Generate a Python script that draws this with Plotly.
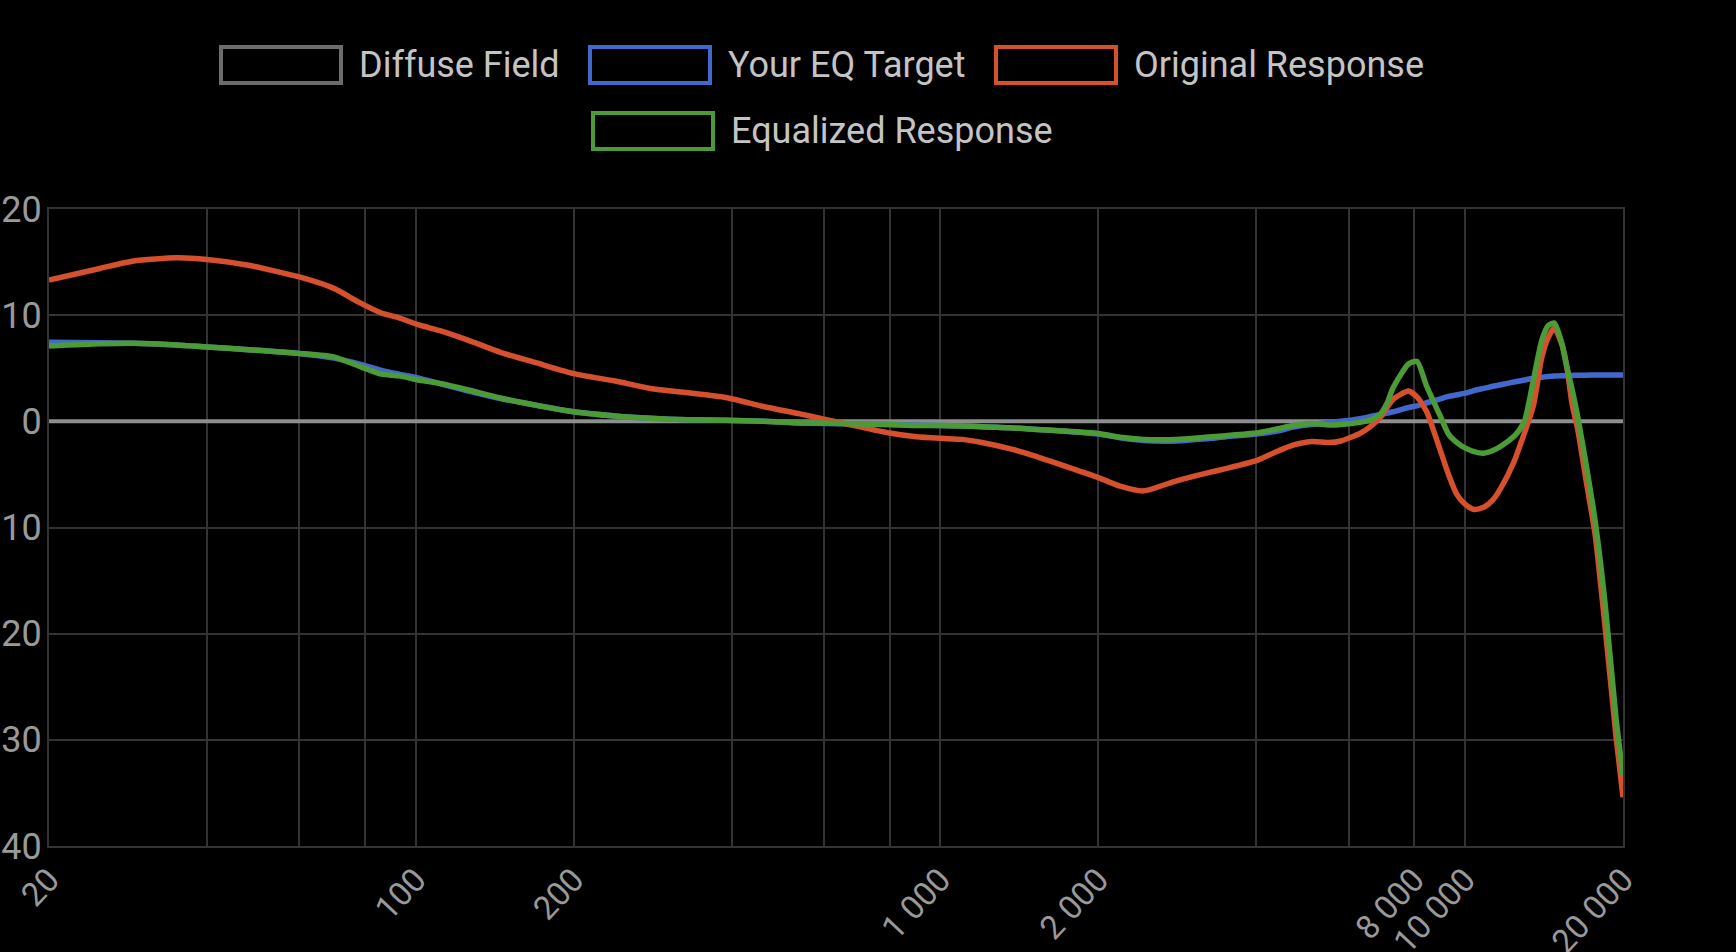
import plotly.graph_objects as go

# ---------------- data ----------------
freq = [20, 25, 29, 35, 40, 48, 60, 70, 78, 86, 93, 101, 112, 125, 145, 170, 200,
        240, 280, 330, 390, 460, 540, 600, 700, 800, 900, 1000, 1100, 1200, 1360,
        1500, 1700, 2000, 2200, 2440, 2820, 3200, 3500, 4000, 4400, 4700, 5100,
        5500, 5800, 6300, 6600, 6900, 7100, 7300, 7800, 8100, 8450, 8950, 9300, 9650,
        10000, 10400, 10850, 11300, 11700, 12400, 12700, 13000, 13500, 14000, 14400,
        14800, 15300, 15600, 16000, 16400, 17000, 17700, 18500, 19400, 20000]

original = [13.3, 14.4, 15.1, 15.4, 15.25, 14.7, 13.6, 12.5, 11.2, 10.2, 9.75, 9.1,
            8.5, 7.7, 6.5, 5.5, 4.5, 3.8, 3.1, 2.7, 2.25, 1.4, 0.7, 0.2, -0.5, -1.1,
            -1.45, -1.6, -1.7, -2.0, -2.6, -3.2, -4.1, -5.3, -6.1, -6.55, -5.6, -4.9,
            -4.45, -3.7, -2.8, -2.25, -1.9, -2.0, -1.85, -1.15, -0.5, 0.4, 1.3, 2.1, 2.85, 2.3,
            0.9, -2.6, -5.0, -6.9, -7.8, -8.3, -8.1, -7.4, -6.3, -3.8, -2.4, -1.0,
            1.5, 6.0, 7.9, 8.8, 7.2, 5.4, 1.6, -0.8, -5.5, -10.7, -19.5, -29.7, -35.4]

equalized = [7.1, 7.3, 7.35, 7.2, 7.0, 6.75, 6.4, 6.05, 5.2, 4.45, 4.28, 3.9, 3.55,
             3.0, 2.2, 1.5, 0.9, 0.5, 0.28, 0.15, 0.1, 0.0, -0.15, -0.15, -0.25,
             -0.3, -0.4, -0.4, -0.45, -0.5, -0.6, -0.75, -0.9, -1.15, -1.5, -1.7,
             -1.7, -1.5, -1.35, -1.1, -0.7, -0.4, -0.2, -0.35, -0.3, -0.1, 0.1, 0.7, 1.7, 3.2,
             5.4, 5.65, 3.3, 0.6, -1.2, -2.0, -2.5, -2.85, -3.0, -2.75, -2.35, -1.4,
             -0.8, 0.1, 3.9, 7.6, 9.0, 9.25, 7.3, 5.3, 3.0, 0.4, -4.0, -9.4, -17.3,
             -28.0, -33.4]

target = [7.45, 7.4, 7.35, 7.2, 7.0, 6.75, 6.4, 5.95, 5.4, 4.8, 4.45, 4.1, 3.5, 2.9,
          2.15, 1.5, 0.9, 0.5, 0.28, 0.15, 0.1, 0.0, -0.15, -0.2, -0.25, -0.3, -0.35,
          -0.4, -0.45, -0.5, -0.6, -0.75, -0.9, -1.2, -1.55, -1.8, -1.85, -1.65,
          -1.45, -1.2, -0.9, -0.55, -0.3, -0.1, 0.0, 0.25, 0.45, 0.65, 0.78, 0.9, 1.3, 1.45,
          1.75, 2.1, 2.35, 2.5, 2.65, 2.9, 3.1, 3.3, 3.45, 3.7, 3.8, 3.9, 4.05, 4.15,
          4.22, 4.27, 4.3, 4.3, 4.32, 4.34, 4.35, 4.36, 4.37, 4.37, 4.37]

diffuse_freq = [20, 20000]
diffuse = [0.0, 0.0]

series_names = ["Diffuse Field", "Your EQ Target", "Original Response", "Equalized Response"]
line_colors = ["#8e8e8e", "#4169cd", "#d7502d", "#4b9b37"]
legend_colors = ["#6c6c6c", "#4169cd", "#d7502d", "#4b9b37"]

x_tickvals = [20, 40, 60, 80, 100, 200, 400, 600, 800, 1000, 2000, 4000, 6000, 8000, 10000, 20000]
x_ticktext = ["20", "", "", "", "100", "200", "", "", "", "1 000", "2 000", "", "", "8 000", "10 000", "20 000"]
y_tickvals = [-40, -30, -20, -10, 0, 10, 20]

# ---------------- layout geometry ----------------
W, H = 1736, 952
L, R, T, B = 49, 113, 209, 106
PW, PH = W - L - R, H - T - B


def px(x):
    return (x - L) / PW


def py(y):
    return (H - B - y) / PH


fig = go.Figure()

fig.add_trace(go.Scatter(x=diffuse_freq, y=diffuse, mode="lines", name=series_names[0],
                         line=dict(color=line_colors[0], width=4), showlegend=False))
for name, col, vals in zip(series_names[1:], line_colors[1:], [target, original, equalized]):
    fig.add_trace(go.Scatter(x=freq, y=vals, mode="lines", name=name,
                             line=dict(color=col, width=5.5, shape="spline", smoothing=0.6),
                             showlegend=False))

# manual legend (outlined boxes like the reference)
legend_boxes = [(221, 47), (590, 47), (996, 47), (593, 113)]  # left, top of box in px
box_w, box_h = 120, 36
shapes = []
annotations = []
for name, col, (bx, by) in zip(series_names, legend_colors, legend_boxes):
    shapes.append(dict(type="rect", xref="paper", yref="paper",
                       x0=px(bx), x1=px(bx + box_w), y0=py(by + box_h), y1=py(by),
                       line=dict(color=col, width=4), fillcolor="rgba(0,0,0,0)"))
    annotations.append(dict(text=name, xref="paper", yref="paper",
                            x=px(bx + box_w + 16), y=py(by + box_h / 2),
                            xanchor="left", yanchor="middle", showarrow=False,
                            font=dict(family="Roboto", size=36, color="#c4c4c4")))

fig.update_layout(
    width=W, height=H,
    margin=dict(l=L, r=R, t=T, b=B, autoexpand=False),
    paper_bgcolor="#000000", plot_bgcolor="#000000",
    font=dict(family="Roboto", color="#999999"),
    shapes=shapes, annotations=annotations,
    showlegend=False,
)
fig.update_xaxes(type="log", range=[1.30103, 4.30103],
                 tickvals=x_tickvals, ticktext=x_ticktext, tickangle=-47,
                 tickfont=dict(family="Roboto", size=33, color="#999999"),
                 showgrid=True, gridcolor="#333333", gridwidth=2,
                 showline=True, linecolor="#333333", linewidth=2, mirror=True,
                 zeroline=False, ticks="", ticklabelstandoff=-1)
fig.update_yaxes(range=[-40, 20], tickvals=y_tickvals,
                 tickfont=dict(family="Roboto", size=36, color="#999999"),
                 showgrid=True, gridcolor="#333333", gridwidth=2,
                 showline=True, linecolor="#333333", linewidth=2, mirror=True,
                 zeroline=False, ticks="", ticklabelstandoff=-2)

fig.write_html(
    "out.html",
    config={"displayModeBar": False},
    post_script="document.body.style.margin='0';document.body.style.background='#000';"
                "document.documentElement.style.background='#000';",
)
